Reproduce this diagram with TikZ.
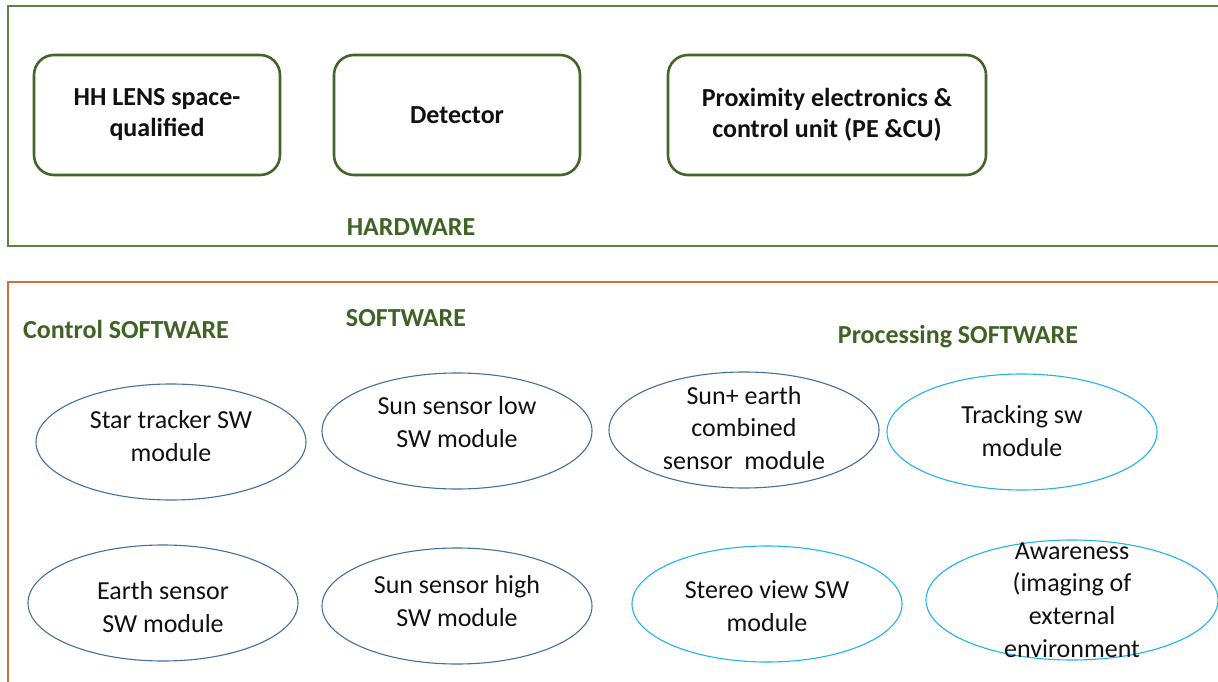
\documentclass[tikz,border=0pt]{standalone}
\usepackage{fontspec}
\setmainfont{Carlito}
\usetikzlibrary{shapes.geometric}
\definecolor{hwgreen}{HTML}{44652A}
\definecolor{titlegreen}{HTML}{3F6325}
\definecolor{framegreen}{HTML}{5E8045}
\definecolor{swframe}{HTML}{D0703A}
\definecolor{darkell}{HTML}{41719C}
\definecolor{lightell}{HTML}{1FB4EC}
\definecolor{txt}{HTML}{111111}
\tikzset{
  hwbox/.style={draw=hwgreen, line width=2.6bp, rounded corners=20bp, rectangle,
    minimum width=246bp, minimum height=120bp, inner sep=0pt, align=center,
    font=\fontsize{26bp}{31bp}\selectfont\bfseries, text=txt},
  title/.style={font=\fontsize{26bp}{30bp}\selectfont\bfseries, text=titlegreen, inner sep=0pt},
  modbase/.style={ellipse, line width=1.1bp, inner sep=0pt,
    minimum width=270bp, minimum height=116bp},
  moddark/.style={modbase, draw=darkell},
  modlight/.style={modbase, draw=lightell},
  modtext/.style={font=\fontsize{26bp}{32.5bp}\selectfont, text=txt, align=center, inner sep=0pt},
}
\begin{document}
\begin{tikzpicture}[x=1bp, y=-1bp]
  \useasboundingbox (0,0) rectangle (1218,682);
  \clip (0,0) rectangle (1218,682);
  \fill[white] (0,0) rectangle (1218,682);

  % frames
  \draw[framegreen, line width=1.3bp] (1240,6) -- (8,6) -- (8,246) -- (1240,246);
  \draw[swframe, line width=1.3bp] (1240,282) -- (8,282) -- (8,700);

  % hardware
  \node[hwbox] (lens) at (157,115) {HH LENS space-\\qualified};
  \node[hwbox] (det) at (457,115) {Detector};
  \node[hwbox, minimum width=318bp] (pecu) at (827,115) {Proximity electronics \&\\control unit (PE \&CU)};
  \node[title] (hw) at (411,227) {HARDWARE};

  % software titles
  \node[title] (sw) at (406,318) {SOFTWARE};
  \node[title] (ctrl) at (126,329) {Control SOFTWARE};
  \node[title] (proc) at (958,337) {Processing SOFTWARE};

  % software modules
  \node[moddark] (star) at (171,442) {};
  \node[modtext] at (171,436) {Star tracker SW\\module};
  \node[moddark] (sunlow) at (457,431) {};
  \node[modtext] at (457,422) {Sun sensor low\\SW module};
  \node[moddark] (sunearth) at (744,430) {};
  \node[modtext] at (744,428) {Sun+ earth\\combined\\sensor\ \ module};
  \node[modlight] (track) at (1022,432) {};
  \node[modtext] at (1022,431) {Tracking sw\\module};

  \node[moddark] (earth) at (163,603) {};
  \node[modtext] at (163,607) {Earth sensor\\SW module};
  \node[moddark] (sunhigh) at (457,606) {};
  \node[modtext] at (457,601) {Sun sensor high\\SW module};
  \node[modlight] (stereo) at (767,604) {};
  \node[modtext] at (767,606) {Stereo view SW\\module};
  \node[modlight, minimum width=292bp, minimum height=120bp] (aware) at (1072,600) {};
  \node[modtext] at (1072,600) {Awareness\\(imaging of\\external\\environment};
\end{tikzpicture}
\end{document}
